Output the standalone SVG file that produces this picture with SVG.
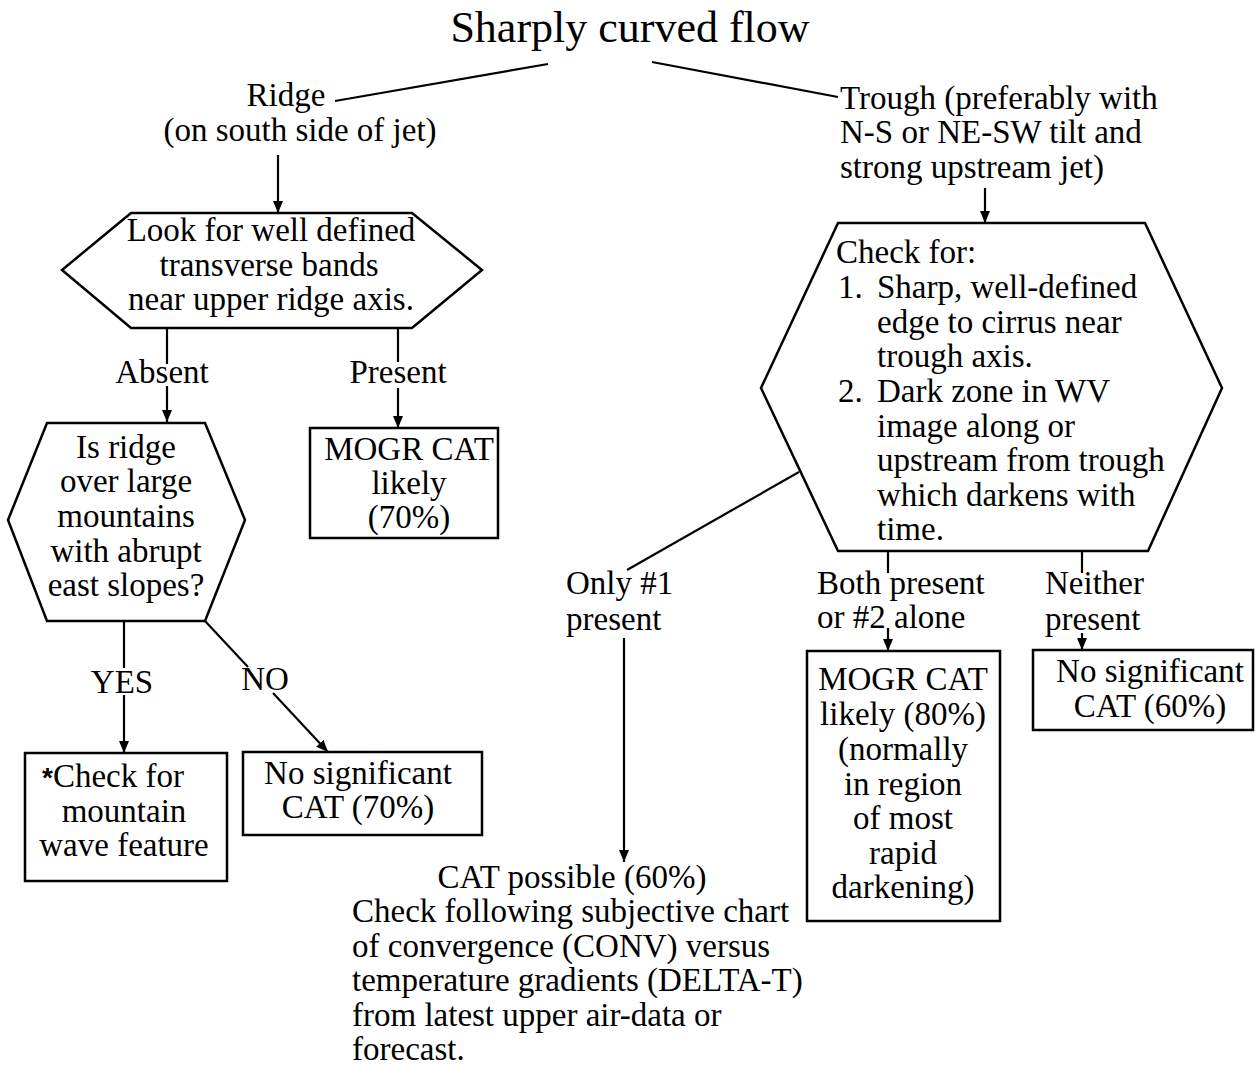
<svg xmlns="http://www.w3.org/2000/svg" width="1260" height="1065" viewBox="0 0 1260 1065">
<defs>
<marker id="arr" markerUnits="userSpaceOnUse" markerWidth="12" markerHeight="10" refX="12" refY="5" orient="auto">
<path d="M0,0 L12,5 L0,10 z" fill="#000"/>
</marker>
<style>
text{font-family:"Liberation Serif","Times New Roman",serif;font-size:33px;fill:#000}
.c{text-anchor:middle}
.t{font-size:44px}
.shape{fill:#fff;stroke:#000;stroke-width:2.5}
.ln{stroke:#000;stroke-width:2.2;fill:none}
.a{marker-end:url(#arr)}
.star{font-family:"Liberation Sans",Arial,sans-serif;font-weight:bold;font-size:28px}
</style>
</defs>
<rect width="1260" height="1065" fill="#fff"/>

<g id="connectors">
<line class="ln" x1="548" y1="64" x2="335" y2="101"/>
<line class="ln" x1="652" y1="62" x2="838" y2="97"/>
<line class="ln a" x1="278" y1="155" x2="278" y2="213"/>
<line class="ln" x1="167" y1="328" x2="167" y2="364"/>
<line class="ln a" x1="167" y1="386" x2="167" y2="422"/>
<line class="ln" x1="398" y1="328" x2="398" y2="362"/>
<line class="ln a" x1="398" y1="388" x2="398" y2="428"/>
<line class="ln" x1="124" y1="621" x2="124" y2="668"/>
<line class="ln a" x1="124" y1="695" x2="124" y2="753"/>
<line class="ln" x1="205" y1="621" x2="248" y2="667"/>
<line class="ln a" x1="273" y1="693" x2="328" y2="752"/>
<line class="ln a" x1="985" y1="188" x2="985" y2="223"/>
<line class="ln" x1="799" y1="472" x2="627" y2="570"/>
<line class="ln a" x1="624" y1="638" x2="624" y2="862"/>
<line class="ln" x1="888" y1="551" x2="888" y2="573"/>
<line class="ln a" x1="888" y1="628" x2="888" y2="651"/>
<line class="ln" x1="1082" y1="551" x2="1082" y2="573"/>
<line class="ln a" x1="1082" y1="633" x2="1082" y2="650"/>
</g>

<g id="title">
<text class="c t" x="630" y="42">Sharply curved flow</text>
</g>

<g id="ridge">
<text class="c" x="286" y="106">Ridge</text>
<text class="c" x="300" y="141">(on south side of jet)</text>
</g>

<g id="trough">
<text x="840" y="109">Trough (preferably with</text>
<text x="840" y="143">N-S or NE-SW tilt and</text>
<text x="840" y="178">strong upstream jet)</text>
</g>

<g id="look-bands">
<polygon class="shape" points="131,213 412,213 482,270 412,328 131,328 62,270"/>
<text class="c" x="271" y="241">Look for well defined</text>
<text class="c" x="269" y="276">transverse bands</text>
<text class="c" x="271" y="310">near upper ridge axis.</text>
</g>

<g id="label-absent"><text class="c" x="162" y="383">Absent</text></g>
<g id="label-present"><text class="c" x="398" y="383">Present</text></g>

<g id="mogr70">
<rect class="shape" x="310" y="428" width="188" height="110"/>
<text class="c" x="409" y="460">MOGR CAT</text>
<text class="c" x="409" y="494">likely</text>
<text class="c" x="409" y="528">(70%)</text>
</g>

<g id="ridge-mountains">
<polygon class="shape" points="47,423 205,423 245,520 205,621 47,621 8,520"/>
<text class="c" x="126" y="458">Is ridge</text>
<text class="c" x="126" y="492">over large</text>
<text class="c" x="126" y="527">mountains</text>
<text class="c" x="126" y="562">with abrupt</text>
<text class="c" x="126" y="596">east slopes?</text>
</g>

<g id="label-yes"><text class="c" x="122" y="693">YES</text></g>
<g id="label-no"><text class="c" x="265" y="690">NO</text></g>

<g id="mountain-wave">
<rect class="shape" x="25" y="753" width="202" height="128"/>
<text x="42" y="787"><tspan class="star">*</tspan>Check for</text>
<text class="c" x="124" y="822">mountain</text>
<text class="c" x="124" y="856">wave feature</text>
</g>

<g id="nosig70">
<rect class="shape" x="243" y="752" width="239" height="83"/>
<text class="c" x="358" y="784">No significant</text>
<text class="c" x="358" y="818">CAT (70%)</text>
</g>

<g id="check-for">
<polygon class="shape" points="838,223 1145,223 1222,388 1148,551 838,551 761,388"/>
<text x="836" y="263">Check for:</text>
<text x="838" y="298">1.</text>
<text x="877" y="298">Sharp, well-defined</text>
<text x="877" y="333">edge to cirrus near</text>
<text x="877" y="367">trough axis.</text>
<text x="838" y="402">2.</text>
<text x="877" y="402">Dark zone in WV</text>
<text x="877" y="437">image along or</text>
<text x="877" y="471">upstream from trough</text>
<text x="877" y="506">which darkens with</text>
<text x="877" y="540">time.</text>
</g>

<g id="label-only1">
<text x="566" y="594">Only #1</text>
<text x="566" y="630">present</text>
</g>
<g id="label-both">
<text x="817" y="594">Both present</text>
<text x="817" y="628">or #2 alone</text>
</g>
<g id="label-neither">
<text x="1045" y="594">Neither</text>
<text x="1045" y="630">present</text>
</g>

<g id="mogr80">
<rect class="shape" x="807" y="651" width="193" height="270"/>
<text class="c" x="903" y="690">MOGR CAT</text>
<text class="c" x="903" y="725">likely (80%)</text>
<text class="c" x="903" y="760">(normally</text>
<text class="c" x="903" y="795">in region</text>
<text class="c" x="903" y="829">of most</text>
<text class="c" x="903" y="864">rapid</text>
<text class="c" x="903" y="898">darkening)</text>
</g>

<g id="nosig60">
<rect class="shape" x="1033" y="650" width="220" height="80"/>
<text class="c" x="1150" y="682">No significant</text>
<text class="c" x="1150" y="717">CAT (60%)</text>
</g>

<g id="cat-possible">
<text class="c" x="572" y="888">CAT possible (60%)</text>
<text x="352" y="922">Check following subjective chart</text>
<text x="352" y="957">of convergence (CONV) versus</text>
<text x="352" y="991">temperature gradients (DELTA-T)</text>
<text x="352" y="1026">from latest upper air-data or</text>
<text x="352" y="1060">forecast.</text>
</g>
</svg>
